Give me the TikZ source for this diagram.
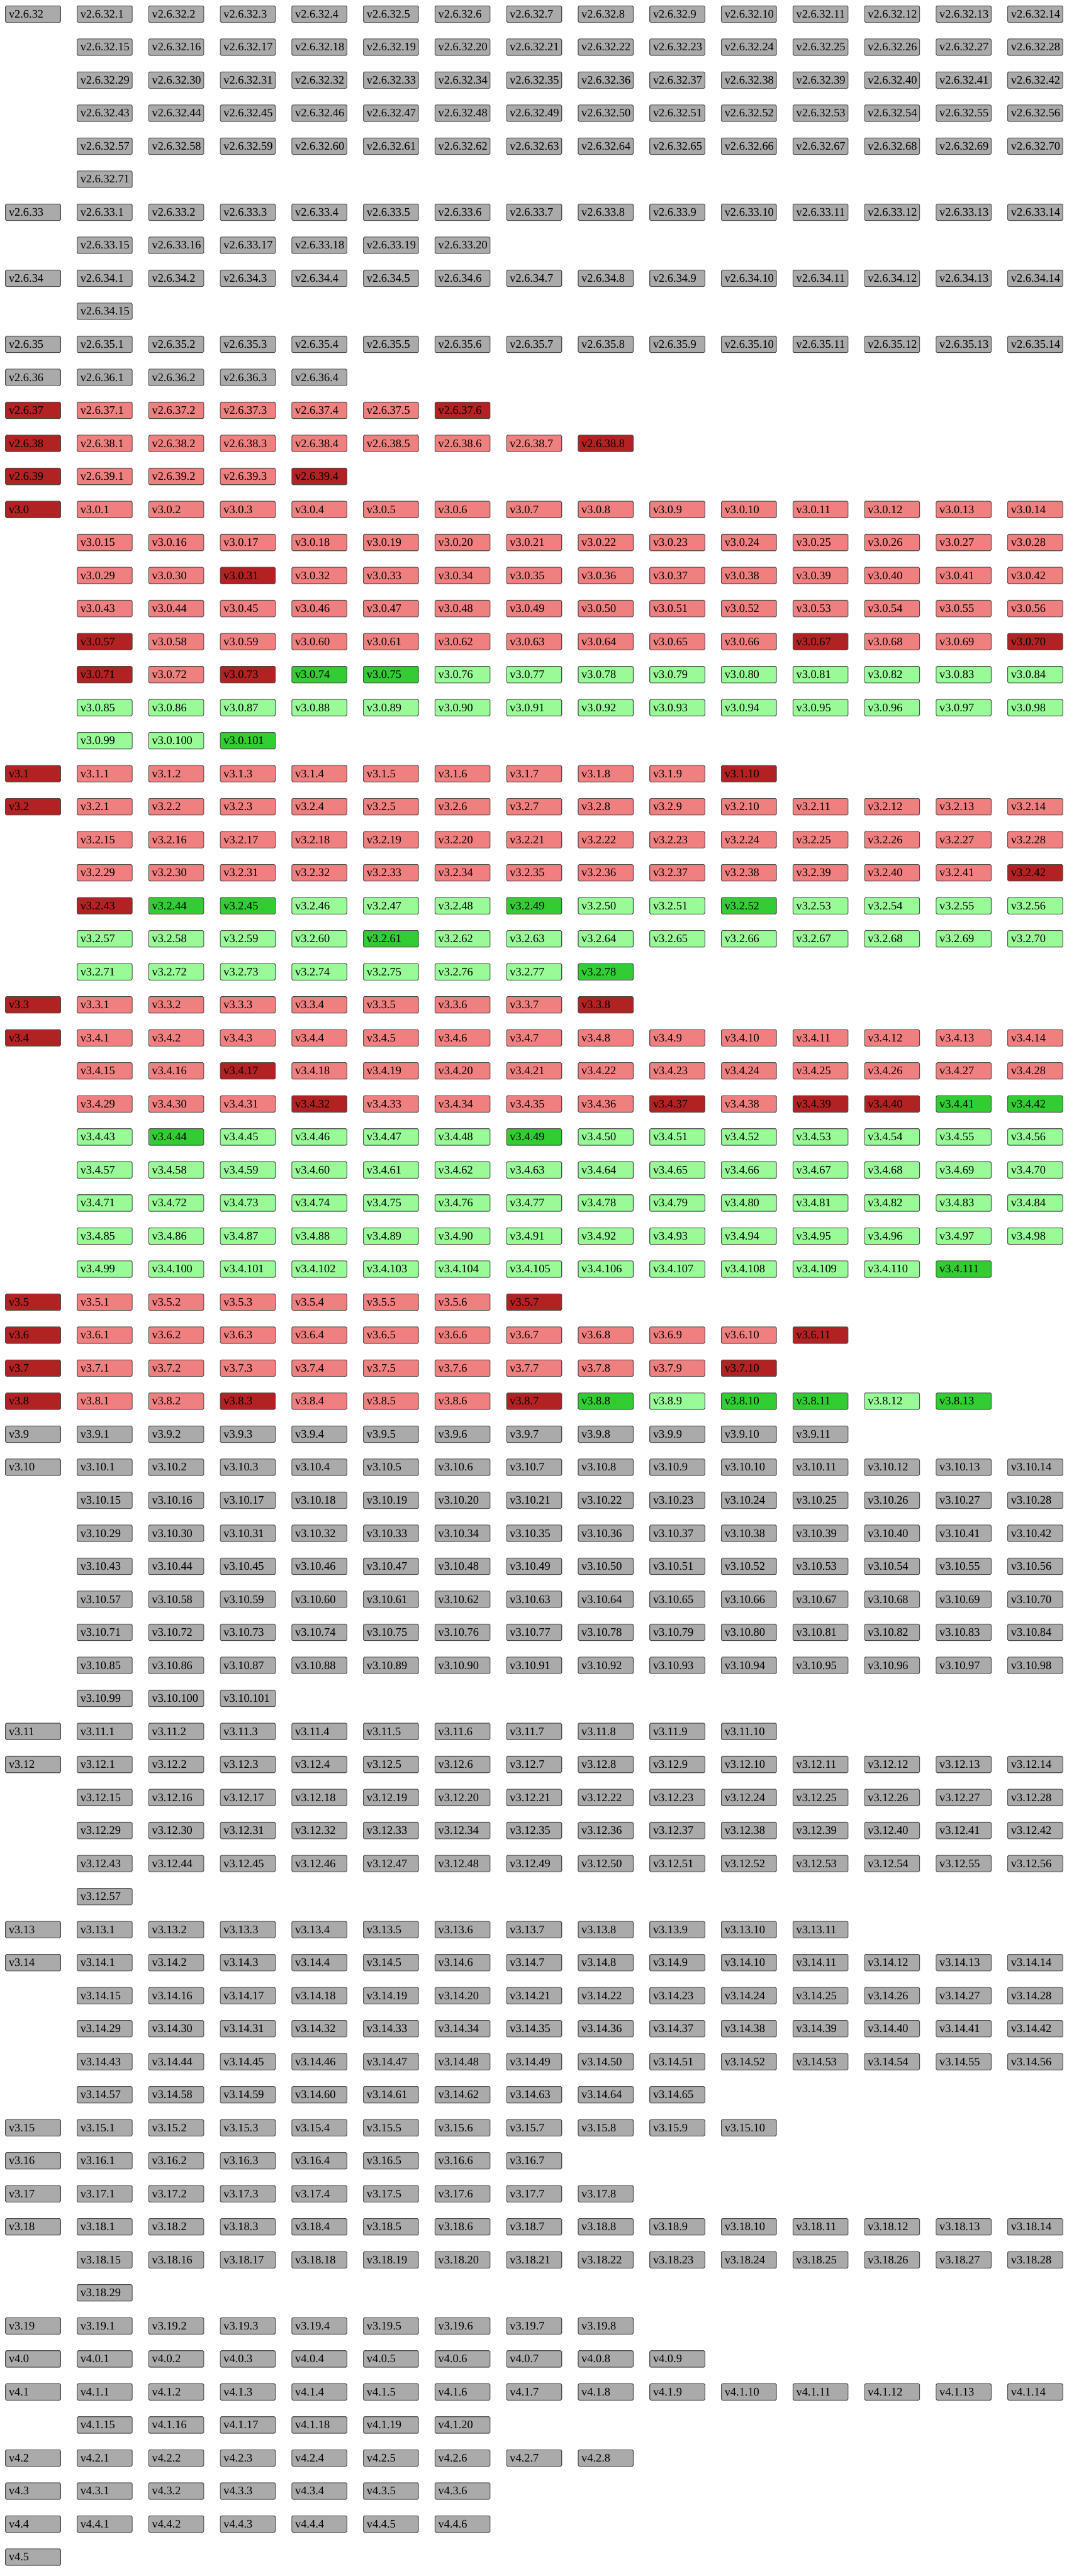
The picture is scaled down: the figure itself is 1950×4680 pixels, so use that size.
\documentclass[tikz,border=0pt]{standalone}
\usepackage{fontspec}
\setmainfont{Liberation Serif}
\usetikzlibrary{positioning}
\definecolor{relgray}{RGB}{170,170,170}
\definecolor{relcoral}{RGB}{240,128,128}
\definecolor{relbrick}{RGB}{178,34,34}
\definecolor{relpale}{RGB}{152,251,152}
\definecolor{rellime}{RGB}{50,205,50}
\definecolor{reledge}{RGB}{75,75,75}
\tikzset{
  basebox/.style={rectangle,rounded corners=1pt,draw=reledge,line width=0.6pt,
    minimum height=15pt,text width=44pt,inner xsep=3pt,inner ysep=0pt,align=left,
    font=\fontsize{10.5}{12}\selectfont,anchor=north west},
  grynode/.style={basebox,fill=relgray},
  lrednode/.style={basebox,fill=relcoral},
  drednode/.style={basebox,fill=relbrick},
  lgrnnode/.style={basebox,fill=relpale},
  bgrnnode/.style={basebox,fill=rellime}
}
\newcount\vrow
\newcount\prow
\newcount\pcol
\newcount\nrows
% one release line: #1 version, #2 node id, #3 patches, #4 base style,
% #5 patch style, #6 first green patch, #7 exceptions (patch/style)
\newcommand{\relrow}[7]{%
  \node[#4] (#2) at (9.4,{-10-60*\the\vrow}) {v#1};
  \ifnum#3>0
    \foreach \i in {1,...,#3}{%
      \ifnum\i<#6\relax\xdef\sty{#5}\else\xdef\sty{lgrnnode}\fi
      \if\relax\detokenize{#7}\relax\else
        \foreach \k/\s in {#7}{\ifnum\k=\i\relax\xdef\sty{\s}\fi}%
      \fi
      \prow=\i \advance\prow by -1 \divide\prow by 14
      \pcol=\numexpr\i-14*\prow\relax
      \advance\prow by \vrow
      \node[\sty] (#2-\i) at ({9.4+130*\the\pcol},{-10-60*\the\prow}) {v#1.\i};
    }%
  \fi
  \nrows=#3 \advance\nrows by 13 \divide\nrows by 14
  \ifnum\nrows<1 \nrows=1 \fi
  \global\advance\vrow by \nrows
}

\begin{document}
\begin{tikzpicture}[x=0.5pt,y=0.5pt]
  \useasboundingbox (0,0) rectangle (1950,-4680);
  \vrow=0

  % 2.6 series
  \relrow{2.6.32}{v2-6-32}{71}{grynode}{grynode}{999}{}
  \relrow{2.6.33}{v2-6-33}{20}{grynode}{grynode}{999}{}
  \relrow{2.6.34}{v2-6-34}{15}{grynode}{grynode}{999}{}
  \relrow{2.6.35}{v2-6-35}{14}{grynode}{grynode}{999}{}
  \relrow{2.6.36}{v2-6-36}{4}{grynode}{grynode}{999}{}
  \relrow{2.6.37}{v2-6-37}{6}{drednode}{lrednode}{999}{6/drednode}
  \relrow{2.6.38}{v2-6-38}{8}{drednode}{lrednode}{999}{8/drednode}
  \relrow{2.6.39}{v2-6-39}{4}{drednode}{lrednode}{999}{4/drednode}

  % 3.x series
  \relrow{3.0}{v3-0}{101}{drednode}{lrednode}{74}{31/drednode,57/drednode,67/drednode,70/drednode,71/drednode,73/drednode,74/bgrnnode,75/bgrnnode,101/bgrnnode}
  \relrow{3.1}{v3-1}{10}{drednode}{lrednode}{999}{10/drednode}
  \relrow{3.2}{v3-2}{78}{drednode}{lrednode}{44}{42/drednode,43/drednode,44/bgrnnode,45/bgrnnode,49/bgrnnode,52/bgrnnode,61/bgrnnode,78/bgrnnode}
  \relrow{3.3}{v3-3}{8}{drednode}{lrednode}{999}{8/drednode}
  \relrow{3.4}{v3-4}{111}{drednode}{lrednode}{41}{17/drednode,32/drednode,37/drednode,39/drednode,40/drednode,41/bgrnnode,42/bgrnnode,44/bgrnnode,49/bgrnnode,111/bgrnnode}
  \relrow{3.5}{v3-5}{7}{drednode}{lrednode}{999}{7/drednode}
  \relrow{3.6}{v3-6}{11}{drednode}{lrednode}{999}{11/drednode}
  \relrow{3.7}{v3-7}{10}{drednode}{lrednode}{999}{10/drednode}
  \relrow{3.8}{v3-8}{13}{drednode}{lrednode}{8}{3/drednode,7/drednode,8/bgrnnode,10/bgrnnode,11/bgrnnode,13/bgrnnode}
  \relrow{3.9}{v3-9}{11}{grynode}{grynode}{999}{}
  \relrow{3.10}{v3-10}{101}{grynode}{grynode}{999}{}
  \relrow{3.11}{v3-11}{10}{grynode}{grynode}{999}{}
  \relrow{3.12}{v3-12}{57}{grynode}{grynode}{999}{}
  \relrow{3.13}{v3-13}{11}{grynode}{grynode}{999}{}
  \relrow{3.14}{v3-14}{65}{grynode}{grynode}{999}{}
  \relrow{3.15}{v3-15}{10}{grynode}{grynode}{999}{}
  \relrow{3.16}{v3-16}{7}{grynode}{grynode}{999}{}
  \relrow{3.17}{v3-17}{8}{grynode}{grynode}{999}{}
  \relrow{3.18}{v3-18}{29}{grynode}{grynode}{999}{}
  \relrow{3.19}{v3-19}{8}{grynode}{grynode}{999}{}

  % 4.x series
  \relrow{4.0}{v4-0}{9}{grynode}{grynode}{999}{}
  \relrow{4.1}{v4-1}{20}{grynode}{grynode}{999}{}
  \relrow{4.2}{v4-2}{8}{grynode}{grynode}{999}{}
  \relrow{4.3}{v4-3}{6}{grynode}{grynode}{999}{}
  \relrow{4.4}{v4-4}{6}{grynode}{grynode}{999}{}
  \relrow{4.5}{v4-5}{0}{grynode}{grynode}{999}{}
\end{tikzpicture}
\end{document}
